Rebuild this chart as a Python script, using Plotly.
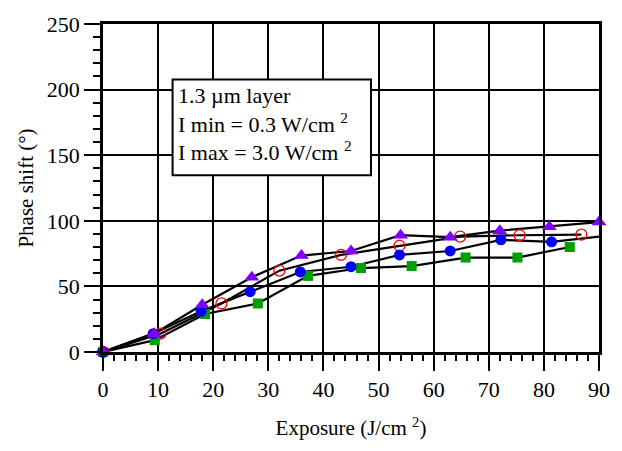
import plotly.graph_objects as go

# Data
x_tri = [0, 9.3, 18, 27, 36, 45, 54, 63, 72, 81, 90]
y_tri = [0, 14, 36, 57, 73.5, 77, 89, 87.5, 92.5, 95.5, 99]

x_dot = [0, 9.1, 17.8, 26.7, 35.8, 45, 53.8, 63, 72.2, 81.4, 90.2]
y_dot = [0, 14, 31, 46, 61, 65, 74, 77, 85.5, 84, 88]

x_sq = [0, 9.4, 18.5, 28.1, 37.2, 46.8, 56, 65.8, 75.2, 84.7]
y_sq = [0, 9, 29, 37, 58, 64, 65.5, 72, 72, 80]

x_ring = [0, 10.4, 21.5, 32, 43.2, 53.8, 64.8, 75.6, 86.8]
y_ring = [0, 14, 37, 62, 74, 81, 88, 89, 89.5]

x_ticks = [0, 10, 20, 30, 40, 50, 60, 70, 80, 90]
y_ticks = [0, 50, 100, 150, 200, 250]

legend_lines = ["1.3 µm layer", "I min = 0.3 W/cm <sup>2</sup>", "I max = 3.0 W/cm <sup>2</sup>"]

FONT = "Liberation Serif, Times New Roman, Times, serif"

# plot-area pixel geometry (for paper-coordinate placement of the text box)
PL, PR, PT, PB = 102.7, 601.7, 17.3, 352.3
def px(xp):
    return (xp - PL) / (PR - PL)
def py(yp):
    return (PB - yp) / (PB - PT)

fig = go.Figure()

series = [
    (x_ring, y_ring, dict(symbol="circle-open", color="red", size=11, line=dict(color="red", width=1.3))),
    (x_sq, y_sq, dict(symbol="square", color="#00A000", size=10, line=dict(width=0))),
    (x_dot, y_dot, dict(symbol="circle", color="blue", size=11, line=dict(width=0))),
    (x_tri, y_tri, dict(symbol="triangle-up", color="#8000FF", size=13, line=dict(width=0))),
]

for xs, ys, _ in series:
    fig.add_trace(go.Scatter(x=xs, y=ys, mode="lines",
                             line=dict(color="black", width=2.2),
                             showlegend=False, hoverinfo="skip"))
for xs, ys, mk in series:
    fig.add_trace(go.Scatter(x=xs, y=ys, mode="markers", marker=mk,
                             showlegend=False, cliponaxis=False))

# text box
fig.add_shape(type="rect", xref="paper", yref="paper",
              x0=px(172.7), x1=px(372.3), y0=py(171.7), y1=py(74),
              line=dict(color="black", width=2), fillcolor="white", layer="above")
for i, (t, yc) in enumerate(zip(legend_lines, [90, 118.5, 147.5])):
    fig.add_annotation(xref="paper", yref="paper", x=px(176.5), y=py(yc),
                       xanchor="left", yanchor="middle", showarrow=False, text=t,
                       font=dict(family=FONT, size=22, color="black"))

axis_common = dict(
    showline=True, linecolor="black", linewidth=2.5, mirror=True,
    showgrid=True, gridcolor="black", gridwidth=2,
    ticks="outside", ticklen=16, tickwidth=2, tickcolor="black",
    zeroline=False,
    tickfont=dict(family=FONT, size=22, color="black"),
)

fig.update_xaxes(
    range=[0, 90], tickvals=x_ticks, **axis_common,
    minor=dict(dtick=2, ticks="outside", ticklen=6, tickwidth=2, tickcolor="black", showgrid=False),
    title=dict(text="Exposure (J/cm <sup>2</sup>)", font=dict(family=FONT, size=21, color="black"), standoff=20),
)
fig.update_yaxes(
    range=[0, 250], tickvals=y_ticks, **axis_common,
    minor=dict(dtick=10, ticks="outside", ticklen=7, tickwidth=2, tickcolor="black", showgrid=False),
    title=dict(text="Phase shift (°)", font=dict(family=FONT, size=21, color="black"), standoff=8),
)

fig.update_layout(
    width=622, height=451,
    margin=dict(l=103, r=20, t=17, b=99),
    plot_bgcolor="white", paper_bgcolor="white",
    font=dict(family=FONT, color="black"),
)

fig.write_html("out.html")
